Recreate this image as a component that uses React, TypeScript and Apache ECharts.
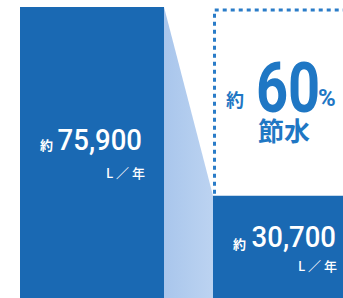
import React, { useEffect, useRef } from "react";
import * as echarts from "echarts";

const CATEGORIES = ["現在", "節水後"];
const VALUES = [75900, 30700];
const PREFIX = "約";
const UNIT = "L ／ 年";
const SAVING_TEXT = "節水";
const SAVING_PCT = Math.round((1 - VALUES[1] / VALUES[0]) * 100);

const BAR_BLUE = "#1a69b3";
const TEXT_BLUE = "#1f77c4";
const HALF = 72;
const OX = 10; // chart div is shifted left by OX inside the clipping wrapper

const fmt = (v: number) => v.toLocaleString("en-US");

export default function App() {
  const ref = useRef<HTMLDivElement>(null);
  useEffect(() => {
    if (!ref.current) return;
    const chart = echarts.init(ref.current, null, { renderer: "svg" });
    const cjk = "'Noto Sans CJK JP', sans-serif";
    const num = "Roboto, sans-serif";
    const t = (x: number, y: number, text: string, fill: string, font: string, align: string, extra: any = {}) => ({
      type: "text",
      x: x + OX,
      y,
      z: 100,
      ...extra,
      style: { text, fill, font, align, verticalAlign: "middle" },
    });
    chart.setOption({
      animation: false,
      grid: { left: OX - 4.5, top: 7, width: 386, height: 317 },
      xAxis: { type: "category", data: CATEGORIES, show: false },
      yAxis: { type: "value", min: 0, max: VALUES[0], show: false },
      series: [
        {
          type: "custom",
          z: 1,
          data: [[0, 1]],
          renderItem: (params: any, api: any) => {
            const p0 = api.coord([0, VALUES[0]]);
            const p1 = api.coord([1, VALUES[1]]);
            const top1 = api.coord([1, VALUES[0]]);
            const base = api.coord([0, 0]);
            const xl = p0[0] + HALF;
            const xr = p1[0] - HALF;
            return {
              type: "group",
              children: [
                {
                  type: "polygon",
                  shape: {
                    points: [
                      [xl, p0[1]],
                      [xr, p1[1]],
                      [xr, base[1]],
                      [xl, base[1]],
                    ],
                  },
                  style: {
                    fill: new echarts.graphic.LinearGradient(0, 0, 1, 0, [
                      { offset: 0, color: "#a9c6ec" },
                      { offset: 1, color: "#bcd3f1" },
                    ]),
                  },
                },
                {
                  type: "polyline",
                  shape: {
                    points: [
                      [xr + 1.5, p1[1] - 2],
                      [xr + 1.5, top1[1] + 3],
                      [p1[0] + HALF + 10, top1[1] + 3],
                    ],
                  },
                  style: {
                    fill: null,
                    stroke: "#2a7cc8",
                    lineWidth: 3,
                    lineDash: [4, 4],
                  },
                },
              ],
            };
          },
        },
        {
          type: "bar",
          z: 2,
          data: VALUES,
          barWidth: HALF * 2,
          itemStyle: { color: BAR_BLUE },
        },
      ],
      graphic: [
        t(53, 144.5, PREFIX, "#fff", `bold 13px ${cjk}`, "right"),
        t(142, 140.5, fmt(VALUES[0]), "#fff", `500 29px ${num}`, "right", { scaleX: 0.95 }),
        t(145, 172.5, UNIT, "#fff", `500 13px ${cjk}`, "right"),
        t(246, 243, PREFIX, "#fff", `bold 13px ${cjk}`, "right"),
        t(336, 237.5, fmt(VALUES[1]), "#fff", `500 29px ${num}`, "right", { scaleX: 0.95 }),
        t(337, 265, UNIT, "#fff", `500 13px ${cjk}`, "right"),
        t(226, 99, PREFIX, TEXT_BLUE, `bold 18px ${cjk}`, "left"),
        t(256, 88, String(SAVING_PCT), TEXT_BLUE, `bold 70px ${num}`, "left", { scaleX: 0.8 }),
        t(318, 98, "%", TEXT_BLUE, `bold 24px ${num}`, "left"),
        t(284, 129, SAVING_TEXT, TEXT_BLUE, `bold 26px ${cjk}`, "center"),
      ],
    });
    return () => chart.dispose();
  }, []);
  return (
    <div style={{ position: "fixed", left: 0, top: 0, width: 343, height: 298, overflow: "hidden", background: "#fff" }}>
      <div ref={ref} style={{ position: "absolute", left: -OX, top: 0, width: 400, height: 340 }} />
    </div>
  );
}
